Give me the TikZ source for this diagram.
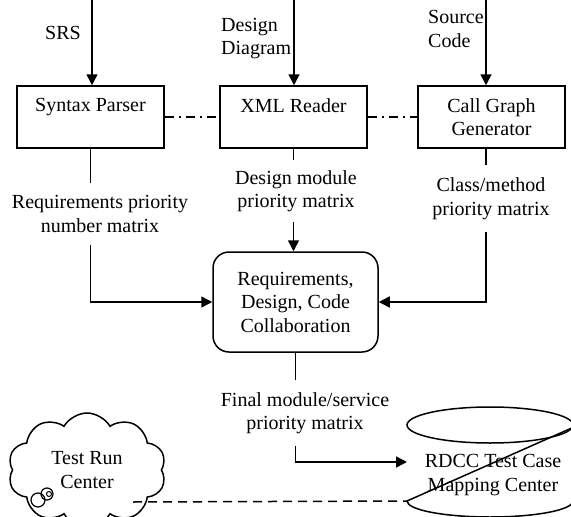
\documentclass[tikz,border=0pt]{standalone}
\usepackage{fontspec}
\setmainfont{Liberation Serif}
\usetikzlibrary{arrows.meta,shapes.symbols}
\begin{document}
\begin{tikzpicture}[x=1pt,y=-1pt,
  every node/.style={font=\fontsize{20}{23.5}\selectfont},
  box/.style={draw,line width=1.5pt,minimum width=147pt,minimum height=62pt,align=center,inner sep=0pt},
  lbl/.style={align=center,inner xsep=0pt,inner ysep=12pt},
  conn/.style={line width=1.5pt},
  arr/.style={line width=1.5pt,-{Triangle[length=11pt,width=11pt]}},
  dashdotline/.style={line width=1.5pt,dash pattern=on 9pt off 5pt on 2pt off 5pt},
  dashline/.style={line width=1.5pt,dash pattern=on 9pt off 6pt}]
\useasboundingbox (0,0) rectangle (571,517);
% boxes
\node[box] (sp) at (90.5,117) {Syntax Parser\\\mbox{}};
\node[box] (xml) at (293.5,117) {XML Reader\\\mbox{}};
\node[box] (cgg) at (491.5,117) {Call Graph\\Generator};
\node[draw,line width=1.5pt,rounded corners=16pt,minimum width=165pt,minimum height=100pt,align=center,inner sep=0pt] (ctr) at (295.5,302) {Requirements,\\Design, Code\\Collaboration};
% inputs
\coordinate (srsTop) at (92,0);
\coordinate (ddTop) at (294,0);
\coordinate (scTop) at (486,0);
\node (srs) at (63,33) {SRS};
\node[anchor=west,align=left,inner sep=0pt] (dd) at (221,38.5) {Design\\Diagram};
\node[anchor=west,align=left,inner sep=0pt] (sc) at (428,29) {Source\\Code};
\draw[arr] (srsTop) -- (srsTop |- sp.north);
\draw[arr] (ddTop) -- (ddTop |- xml.north);
\draw[arr] (scTop) -- (scTop |- cgg.north);
% dash-dot links
\draw[dashdotline] (sp.east) -- (xml.west);
\draw[dashdotline] (xml.east) -- (cgg.west);
% labels
\node[lbl] (rpl) at (100,214) {Requirements priority\\number matrix};
\node[lbl,inner ysep=10pt] (dpm) at (296,191) {Design module\\priority matrix};
\node[lbl] (cpm) at (491,198.5) {Class/method\\priority matrix};
\node[lbl] (fin) at (305,413) {Final module/service\\priority matrix};
% connectors
\draw[conn] (sp.south) -- (sp.south |- rpl.north);
\draw[arr] (sp.south |- rpl.south) |- (ctr.west);
\draw[conn] (xml.south) -- (xml.south |- dpm.north);
\draw[arr] (xml.south |- dpm.south) -- (xml.south |- ctr.north);
\draw[conn] (scTop |- cgg.south) -- (scTop |- cpm.north);
\draw[arr] (scTop |- cpm.south) |- (ctr.east);
\draw[conn] (ctr.south) -- (ctr.south |- fin.north);
\coordinate (arrEnd) at (407,462);
\draw[arr] (ctr.south |- fin.south) |- (arrEnd);
% cylinder (as drawn)
\draw[line width=1.5pt] (490,425) ellipse [x radius=83pt, y radius=18pt];
\coordinate (cylBL) at (407,501);
\coordinate (cylTR) at (574,427);
\draw[line width=1.5pt] (cylBL) arc[start angle=180, end angle=360, x radius=83pt, y radius=16pt];
\draw[line width=1.5pt] (cylBL) -- (cylTR);
\node[align=center] (rdcc) at (493,475) {RDCC Test Case\\Mapping Center};
% cloud
\node[cloud,draw,line width=1.5pt,cloud puffs=10,cloud puff arc=120,minimum width=158pt,minimum height=94pt,align=center,inner sep=0pt] (trc) at (87,470) {Test Run\\Center};
\draw[line width=1.2pt] (38,500) circle[radius=7pt];
\draw[line width=1.2pt] (47,494) circle[radius=6pt];
\draw[line width=1pt] (49,494) circle[radius=2.5pt];
\coordinate (dashS) at (133,502);
\draw[dashline] (dashS) -- (cylBL);
\end{tikzpicture}
\end{document}
